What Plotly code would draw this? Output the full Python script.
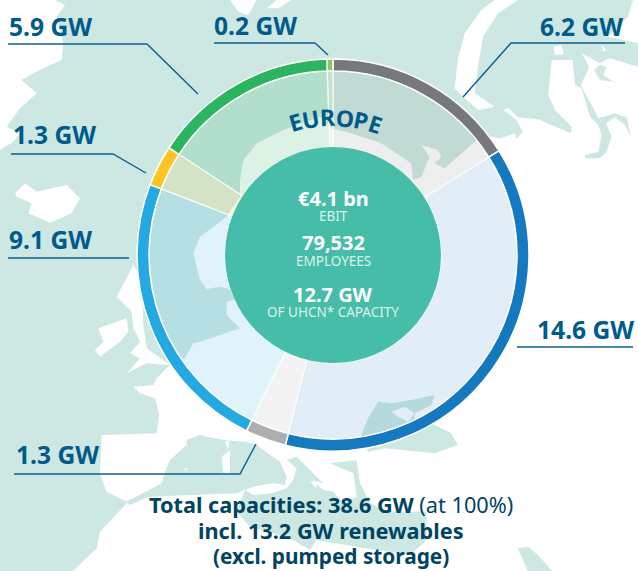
import math
import plotly.graph_objects as go

W, H = 638, 571

# ---- data
segments = ["0.2 GW", "6.2 GW", "14.6 GW", "1.3 GW (south)", "9.1 GW", "1.3 GW (west)", "5.9 GW"]
capacities = [0.2, 6.2, 14.6, 1.3, 9.1, 1.3, 5.9]
ring_colors = ["#8CC860", "#77787B", "#1479BE", "#AEAEB1", "#25A9E2", "#FDC425", "#2CB45F"]
sector_colors = ["rgba(140,200,96,.15)", "rgba(119,120,123,.13)", "rgba(20,121,190,.13)",
                 "rgba(174,174,177,.15)", "rgba(37,169,226,.14)", "rgba(253,196,37,.15)",
                 "rgba(44,180,95,.17)"]
value_labels = ["5.9 GW", "0.2 GW", "6.2 GW", "1.3 GW", "9.1 GW", "14.6 GW", "1.3 GW"]
center_big = ["€4.1 bn", "79,532", "12.7 GW"]
center_small = ["EBIT", "EMPLOYEES", "OF UHCN* CAPACITY"]
title_letters = list("EUROPE")
footer = ["<b>Total capacities: 38.6 GW</b> (at 100%)", "<b>incl. 13.2 GW renewables</b>",
          "<b>(excl. pumped storage)</b>"]

# ---- layout geometry (pixels)
CX, CY, R_OUT, R_RING_IN, R_HUB = 333, 255, 196, 184, 108
SEA, LAND = "#CDE8E2", "#FFFFFF"
INK, INK2, RULE = "#005A8C", "#004461", "#0B5F91"
HUB = "#45BDA9"
FONT = "Noto Sans"
label_pos = [(7, 26, "left"), (212, 25, "left"), (625, 26, "right"), (11, 135, "left"),
             (7, 239, "left"), (636, 329, "right"), (14, 454, "left")]
leaders = [[(8, 44), (147, 44), (198, 94)], [(214, 43), (315, 43), (328, 55)],
           [(625, 43), (511, 43), (463, 97)], [(11, 154), (113, 154), (146, 173)],
           [(8, 258), (129, 258)], [(517, 347), (633, 347)], [(14, 474), (240, 474), (256, 444)]]
center_big_y = [198, 243, 294]
center_small_y = [216, 261, 312]
footer_y = [504, 530, 556]
footer_size = [21.7, 21.7, 20.8]
title_angles = [-15.9, -9.5, -2, 5, 11.5, 17.9]
TITLE_R = 138


def px(x):
    return x / W


def py(y):
    return 1 - y / H


def frame(ox, oy, s, pts):
    return [(ox + a / s, oy + b / s) for a, b in pts]


def Z1(*p): return frame(0, 0, 3, p)
def Z2(*p): return frame(318, 0, 3, p)
def Z3(*p): return frame(0, 285, 3, p)
def Z4(*p): return frame(318, 285, 3, p)
def Z5(*p): return frame(90, 440, 3, p)
def Z6(*p): return frame(500, 30, 3, p)


def poly(points, color):
    d = "M" + " L".join(f"{px(x):.5f},{py(y):.5f}" for x, y in points) + " Z"
    return dict(type="path", xref="paper", yref="paper", path=d, layer="below",
                fillcolor=color, line=dict(width=0))


land_shapes = [
    # Greenland
    (Z1((0, 0), (165, 0), (195, 15), (170, 50), (190, 130), (185, 180), (130, 205), (100, 220), (65, 240),
        (110, 280), (60, 325), (20, 380), (60, 400), (40, 425), (0, 450)), LAND),
    # Iceland
    (Z1((45, 580), (75, 550), (110, 575), (200, 555), (240, 595), (215, 640), (150, 668), (85, 640),
        (95, 610), (50, 590)), LAND),
    # Svalbard
    (Z1((690, 0), (770, 0), (745, 45), (715, 35)), LAND),
    (Z1((800, 25), (830, 0), (875, 0), (835, 25)), LAND),
    # Novaya Zemlya
    (Z2((600, 0), (540, 40), (495, 110), (480, 200), (470, 280), (530, 320), (480, 330), (440, 295),
        (410, 265), (420, 175), (440, 100), (490, 30), (530, 0)), LAND),
    # Eurasia + Africa
    (Z1((730, 480), (770, 430), (850, 390), (960, 350)) +
     Z2((40, 385), (100, 400), (190, 430), (280, 490), (285, 540), (310, 530), (335, 470), (310, 435),
        (360, 450), (370, 470), (350, 490), (380, 505), (470, 425), (520, 410)) +
     Z6((0, 325), (45, 310), (50, 328), (68, 305), (50, 270), (10, 240), (25, 235), (55, 262), (115, 268),
        (212, 310), (215, 290), (165, 240), (145, 195), (155, 90), (218, 90), (245, 70), (300, 100),
        (330, 85), (414, 110)) +
     [(638, 571), (73, 571)] +
     Z3((290, 790), (300, 740), (385, 650), (370, 645), (320, 620), (300, 565), (305, 450), (470, 445),
        (478, 390), (465, 340), (420, 325), (400, 305), (460, 300), (470, 280), (510, 240), (555, 220),
        (580, 175), (600, 170), (660, 150), (720, 130), (680, 90), (680, 50), (720, 40), (760, 30),
        (700, 15), (660, 5), (620, 12), (600, -15)) +
     Z1((580, 760), (600, 710), (680, 650), (720, 590), (720, 540)),
     LAND),
    # Top-right land
    (frame(318, 0, 3, [(945, 0), (930, 50), (870, 110), (960, 130), (960, 0)]), LAND),
    # Arctic islands
    (Z6((160, 50), (185, 45), (192, 72), (165, 75)), LAND),
    (Z6((305, 45), (320, 60), (310, 65)), LAND),
    # Ob gulf and bays
    (Z6((218, 60), (245, 70), (268, 112), (242, 165), (280, 235), (295, 265), (345, 250), (380, 262),
        (392, 318), (375, 285), (345, 262), (318, 280), (335, 320), (320, 365), (300, 385), (255, 385),
        (255, 375), (295, 365), (305, 315), (295, 285), (270, 260), (245, 175), (225, 165), (218, 90)), SEA),
    (Z6((282, 120), (300, 105), (320, 112), (310, 135), (340, 155), (300, 150)), SEA),
    # Ireland and Britain
    (Z3((295, 130), (380, 100), (385, 140), (360, 170), (300, 215), (285, 195), (310, 170)), LAND),
    (Z3((350, 35), (400, -60), (425, -20), (430, 120), (440, 190), (510, 240), (440, 235), (380, 265),
        (420, 220), (390, 205), (420, 170), (400, 130), (395, 80)), LAND),
    # Mediterranean (west)
    (Z5((105, 185), (130, 175), (215, 130), (225, 95), (240, 60), (290, 15), (290, 0), (330, -15), (400, 0),
        (470, 5), (500, 15), (570, 65), (590, 110), (585, 135), (550, 130), (490, 140), (440, 160), (175, 170),
        (120, 195)), SEA),
    # Mediterranean (east) + Adriatic + Aegean
    (Z5((590, 60), (620, 50), (660, 90), (700, 130), (665, 120), (700, 150), (730, 155), (760, 190),
        (800, 170), (790, 100), (720, 70), (800, 60), (810, 130), (840, 190), (900, 215), (1010, 215), (1010, 300),
        (960, 345), (800, 320), (680, 300), (660, 330), (600, 295), (480, 260), (440, 215), (465, 150), (490, 165),
        (545, 160), (590, 145), (610, 120), (620, 85)), SEA),
    # Balkan islands
    (Z5((660, 125), (680, 125), (680, 145)), LAND),
    # Corsica, Sardinia, Balearics
    (Z5((395, 50), (420, 30), (420, 100), (400, 100)), LAND),
    (Z5((405, 5), (418, 0), (415, 30)), LAND),
    (Z5((280, 85), (292, 85), (290, 92)), LAND),
    # Black Sea and Crimea
    (Z4((130, 450), (150, 400), (180, 350), (220, 355), (280, 345), (350, 330), (340, 360), (290, 385), (290, 400),
        (340, 415), (400, 445), (420, 480), (350, 505), (200, 490), (150, 500)), SEA),
    (Z4((220, 380), (260, 365), (290, 385), (270, 410), (240, 395)), LAND),
    # Red Sea tip
    (Z4((600, 790), (630, 785), (660, 810), (705, 860), (630, 860)), SEA),
]

shapes = [dict(type="rect", xref="paper", yref="paper", x0=0, x1=1, y0=0, y1=1, layer="below",
               fillcolor=SEA, line=dict(width=0))]
shapes += [poly(p, c) for p, c in land_shapes]

for pts in leaders:
    d = "M" + " L".join(f"{px(x):.5f},{py(y):.5f}" for x, y in pts)
    shapes.append(dict(type="path", xref="paper", yref="paper", path=d, layer="below",
                       line=dict(color=RULE, width=1.4)))

shapes.append(dict(type="circle", xref="paper", yref="paper", layer="above",
                   x0=px(CX - R_HUB), x1=px(CX + R_HUB), y0=py(CY + R_HUB), y1=py(CY - R_HUB),
                   fillcolor=HUB, line=dict(width=0)))


def dom(r):
    return dict(x=[px(CX - r), px(CX + r)], y=[py(CY + r), py(CY - r)])


START = -1.8
fig = go.Figure()
fig.add_trace(go.Pie(labels=segments, values=capacities, sort=False, direction="clockwise", rotation=START,
                     hole=R_HUB / R_RING_IN, domain=dom(R_RING_IN), textinfo="none", hoverinfo="skip",
                     showlegend=False,
                     marker=dict(colors=sector_colors, line=dict(color="rgba(255,255,255,.75)", width=1.2))))
fig.add_trace(go.Pie(labels=segments, values=capacities, sort=False, direction="clockwise", rotation=START,
                     hole=R_RING_IN / R_OUT, domain=dom(R_OUT), textinfo="none", hoverinfo="skip",
                     showlegend=False,
                     marker=dict(colors=ring_colors, line=dict(color="#FFFFFF", width=1.5))))

ann = []
for t, (x, y, a) in zip(value_labels, label_pos):
    ann.append(dict(x=px(x), y=py(y), text=f"<b>{t}</b>", xanchor=a, yanchor="middle",
                    font=dict(size=24.6, color=INK, family=FONT)))
for t, y in zip(center_big, center_big_y):
    ann.append(dict(x=px(CX), y=py(y), text=f"<b>{t}</b>", xanchor="center", yanchor="middle",
                    font=dict(size=20, color="#FFFFFF", family=FONT)))
for t, y in zip(center_small, center_small_y):
    ann.append(dict(x=px(CX), y=py(y), text=t, xanchor="center", yanchor="middle",
                    font=dict(size=13.5, color="#DDF2EC", family=FONT)))
for t, y, s in zip(footer, footer_y, footer_size):
    ann.append(dict(x=px(331), y=py(y), text=t, xanchor="center", yanchor="middle",
                    font=dict(size=s, color=INK2, family=FONT)))
for ch, ang in zip(title_letters, title_angles):
    x = CX + TITLE_R * math.sin(math.radians(ang))
    y = CY - TITLE_R * math.cos(math.radians(ang))
    ann.append(dict(x=px(x), y=py(y), text=f"<b>{ch}</b>", textangle=ang, xanchor="center", yanchor="middle",
                    font=dict(size=23, color=INK, family=FONT)))
for a in ann:
    a.update(xref="paper", yref="paper", showarrow=False)

fig.update_layout(width=W, height=H, margin=dict(l=0, r=0, t=0, b=0), paper_bgcolor=SEA,
                  plot_bgcolor=SEA, shapes=shapes, annotations=ann, showlegend=False)
fig.write_html("out.html", config=dict(displayModeBar=False),
               post_script="document.body.style.margin='0';")
